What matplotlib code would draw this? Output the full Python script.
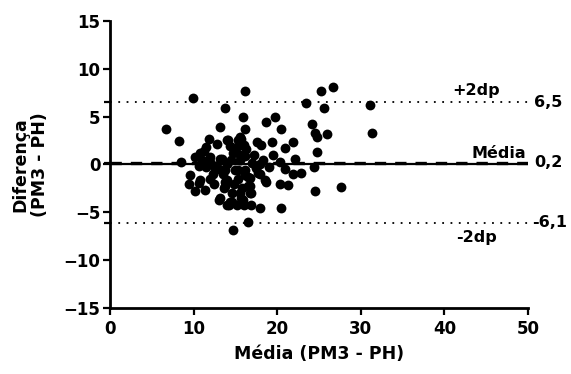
import matplotlib
matplotlib.use("Agg")
import matplotlib.pyplot as plt

# Bland-Altman data
media = [6.7, 8.3, 8.5, 9.9, 9.6, 9.4, 10.6, 10.2, 11.4, 10.6,
         10.8, 11.2, 11.8, 12.8, 12.0, 13.2, 12.0, 12.6, 13.2, 13.8,
         14.0, 14.4, 14.7, 15.3, 15.6, 15.9, 16.1, 16.1, 15.6, 16.1,
         14.9, 14.0, 13.6, 14.6, 13.0, 14.6, 14.2, 15.2, 16.0, 15.7,
         16.9, 17.9, 16.5, 14.7, 16.5, 16.7, 16.1, 16.5, 16.7, 16.9,
         17.5, 17.9, 18.7, 20.3, 21.3, 20.5, 20.9, 21.9, 22.8, 24.4,
         24.5, 27.6, 22.1, 24.8, 20.9, 21.9, 19.4, 17.6, 18.1, 18.7,
         19.7, 20.4, 24.2, 24.5, 24.8, 26.0, 31.3, 31.1, 23.4, 25.6,
         25.2, 26.7, 11.0, 11.5, 12.3, 13.0, 13.5, 14.0, 14.5, 15.0,
         15.5, 15.3, 15.8, 14.8, 12.5, 13.2, 11.5, 10.2, 17.0, 18.3,
         19.0, 16.3, 17.2, 19.5, 13.8, 15.5, 12.0, 10.8, 16.0, 14.1,
         15.7, 15.3, 13.4, 15.6, 12.6, 13.8, 15.3, 16.1, 17.9, 20.3,
         17.7, 13.8, 18.5, 16.7, 14.0, 15.9, 14.4]
diferenca = [3.7, 2.5, 0.3, 6.9, -1.1, -2.0, -1.9, -2.8, -2.7, -0.2,
             1.2, 1.4, 2.7, 2.1, 0.8, 0.6, 0.3, -0.4, 3.9, 5.9,
             2.6, 1.9, 1.2, 2.6, 2.2, 5.0, 7.7, 3.7, 2.9, 0.9,
             -0.6, -1.6, -2.5, -3.0, -3.7, -3.9, -4.2, -4.2, -4.2, -3.5,
             -4.2, -4.6, -6.0, -6.9, -2.3, -1.4, -0.6, -1.3, -2.2, -3.0,
             -0.4, -1.0, -1.8, -2.0, -2.1, -4.6, -0.5, -1.0, -0.9, -0.3,
             -2.8, -2.4, 0.6, 1.3, 1.7, 2.3, 2.4, 2.4, 2.0, 4.4,
             5.0, 3.7, 4.2, 3.3, 2.9, 3.2, 3.3, 6.2, 6.4, 5.9,
             7.7, 8.1, 0.5, -0.3, -1.0, -0.5, -1.0, 0.0, 0.5, 1.5,
             0.5, -1.5, -2.5, -2.0, -2.0, -3.5, 1.8, 0.8, 0.2, 0.5,
             -0.3, 1.6, 1.0, 1.0, -1.8, -3.0, -1.5, -1.6, 2.0, 2.6,
             2.7, 1.9, 0.6, 1.0, -0.2, -0.6, -0.6, -1.1, 0.0, 0.3,
             -0.9, -2.3, -1.6, -3.0, -4.2, -3.7, -3.9]

vies = 0.2
lim_sup = 6.5
lim_inf = -6.1

plt.rcParams['font.family'] = ['DejaVu Sans']
plt.rcParams['font.weight'] = 'bold'

fig = plt.figure(figsize=(5.71, 3.74), dpi=100)
ax = fig.add_axes([0.1926, 0.1765, 0.7321, 0.7674])

ax.axhline(0, color='black', lw=1.6, zorder=2)
ax.axhline(vies, color='black', lw=2.4, dashes=(3.4, 2.7), zorder=3)
ax.axhline(lim_sup, color='black', lw=1.3, dashes=(1, 3.6), zorder=2)
ax.axhline(lim_inf, color='black', lw=1.3, dashes=(1, 3.6), zorder=2)

ax.scatter(media, diferenca, s=50, color='black', zorder=4, linewidths=0)

ax.set_xlim(0, 50)
ax.set_ylim(-15, 15)
ax.set_xticks([0, 10, 20, 30, 40, 50])
ax.set_yticks([-15, -10, -5, 0, 5, 10, 15])
ax.set_yticks([lim_inf, vies, lim_sup], minor=True)
ax.tick_params(axis='both', which='major', labelsize=12, width=1.6, length=5)
ax.tick_params(axis='y', which='major', pad=2)
ax.tick_params(axis='x', which='major', pad=4)
ax.tick_params(axis='y', which='minor', width=1.6, length=4)
for lab in ax.get_xticklabels() + ax.get_yticklabels():
    lab.set_fontweight('bold')

for s in ['top', 'right']:
    ax.spines[s].set_visible(False)
for s in ['left', 'bottom']:
    ax.spines[s].set_linewidth(2)

ax.set_xlabel('Média (PM3 - PH)', fontsize=12.5, fontweight='bold', labelpad=5)
ax.set_ylabel('Diferença\n(PM3 - PH)', fontsize=12.5, fontweight='bold',
              labelpad=10, linespacing=1.15)

fs = 11.5
ax.text(43.8, lim_sup + 0.5, '+2dp', fontsize=fs, fontweight='bold', ha='center', va='bottom')
ax.text(50.7, lim_sup, '6,5', fontsize=fs, fontweight='bold', ha='left', va='center', clip_on=False)
ax.text(46.5, vies + 0.2, 'Média', fontsize=fs, fontweight='bold', ha='center', va='bottom')
ax.text(50.7, vies, '0,2', fontsize=fs, fontweight='bold', ha='left', va='center', clip_on=False)
ax.text(50.5, lim_inf, '-6,1', fontsize=fs, fontweight='bold', ha='left', va='center', clip_on=False)
ax.text(43.8, lim_inf - 0.7, '-2dp', fontsize=fs, fontweight='bold', ha='center', va='top')

fig.savefig('out.png', dpi=100)
